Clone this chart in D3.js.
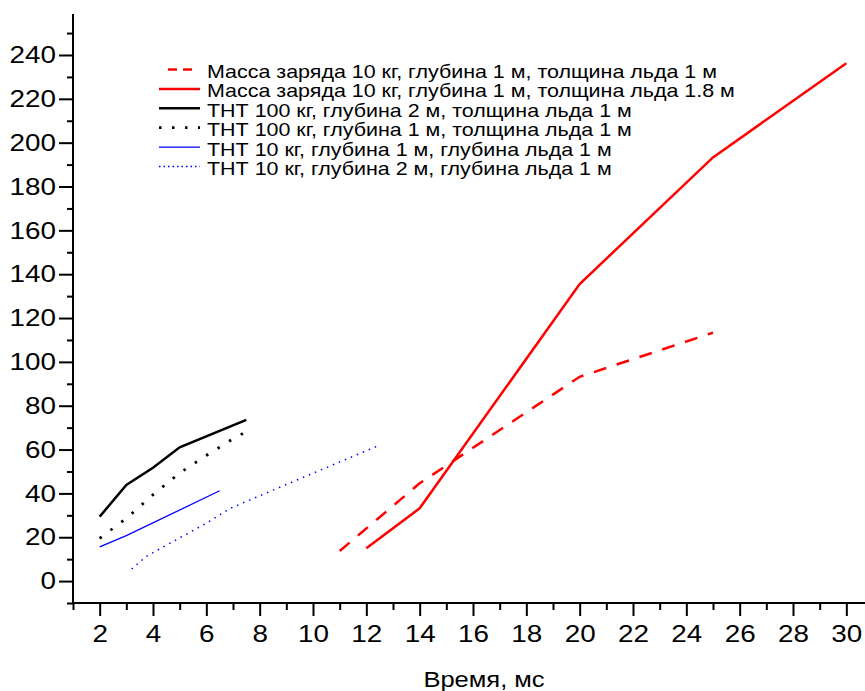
<!DOCTYPE html>
<html>
<head>
<meta charset="utf-8">
<script src="https://cdn.jsdelivr.net/npm/d3@7"></script>
<style>
  body { margin: 0; background: #fff; }
  svg { display: block; font-family: Arial, "Liberation Sans", sans-serif; }
  .axis path, .axis line { stroke: #000; stroke-width: 2; }
  .axis text { font-size: 24px; fill: #000; }
</style>
</head>
<body>
<div id="chart"></div>
<script>
// series values: [time ms, value]
var massa_10_1m = [[11, 13.7], [14, 44.6], [20, 93.2], [25, 113.3]];
var massa_10_1_8m = [[12, 15], [14, 33.2], [20, 135.5], [25, 193.3], [30, 236.2]];
var tnt100_depth2 = [[2, 29.4], [3, 43.8], [4, 51.7], [5, 61], [7.5, 73.5]];
var tnt100_depth1 = [[2, 19.5], [3, 28.6], [4, 39.4], [5, 49.3], [6, 57.3], [7, 64.9], [7.5, 68.2]];
var tnt10_depth1 = [[2, 15.6], [3, 20.7], [6.5, 41.2]];
var tnt10_depth2 = [[3.2, 5.5], [3.75, 11.3], [5, 19.7], [6, 26.4], [6.9, 33.2], [8, 38.9], [10, 49.2], [12.5, 62]];

var legend_labels = [
  "Масса заряда 10 кг, глубина 1 м, толщина льда 1 м",
  "Масса заряда 10 кг, глубина 1 м, толщина льда 1.8 м",
  "ТНТ 100 кг, глубина 2 м, толщина льда 1 м",
  "ТНТ 100 кг, глубина 1 м, толщина льда 1 м",
  "ТНТ 10 кг, глубина 1 м, глубина льда 1 м",
  "ТНТ 10 кг, глубина 2 м, глубина льда 1 м"
];

var x_major = [2, 4, 6, 8, 10, 12, 14, 16, 18, 20, 22, 24, 26, 28, 30];
var x_minor = [1, 3, 5, 7, 9, 11, 13, 15, 17, 19, 21, 23, 25, 27, 29];
var y_major = [0, 20, 40, 60, 80, 100, 120, 140, 160, 180, 200, 220, 240];
var y_minor = [-10, 10, 30, 50, 70, 90, 110, 130, 150, 170, 190, 210, 230, 250];
var x_title = "Время, мс";

const WIDTH = 865,
  HEIGHT = 691,
  X_LEFT = 73,
  X_RIGHT = 865,
  Y_BOTTOM = 603,
  Y_TOP = 14,
  STRETCH = 1.16; // the original text is wider than Arial at the same height

var svg = d3.select("#chart")
  .append("svg")
  .attr("width", WIDTH)
  .attr("height", HEIGHT);

var x = d3.scaleLinear().domain([1, 30.7]).range([X_LEFT, X_RIGHT]);
var y = d3.scaleLinear().domain([-10, 258.7]).range([Y_BOTTOM, Y_TOP]);

// axes: minor ticks first, then major with labels
svg.append("g")
  .attr("class", "axis")
  .attr("transform", "translate(0," + Y_BOTTOM + ")")
  .call(d3.axisBottom(x).tickValues(x_minor).tickSize(7).tickFormat(""))
  .select(".domain").attr("d", "M" + X_LEFT + ",0H" + X_RIGHT);

var x_axis = svg.append("g")
  .attr("class", "axis")
  .attr("transform", "translate(0," + Y_BOTTOM + ")")
  .call(d3.axisBottom(x).tickValues(x_major).tickSize(13).tickPadding(9).tickFormat(d3.format("d")));
x_axis.select(".domain").remove();
x_axis.selectAll("text").attr("transform", "scale(" + STRETCH + ",1)");

svg.append("g")
  .attr("class", "axis")
  .attr("transform", "translate(" + X_LEFT + ",0)")
  .call(d3.axisLeft(y).tickValues(y_minor).tickSize(6).tickFormat(""))
  .select(".domain").attr("d", "M0," + Y_BOTTOM + "V" + Y_TOP);

var y_axis = svg.append("g")
  .attr("class", "axis")
  .attr("transform", "translate(" + X_LEFT + ",0)")
  .call(d3.axisLeft(y).tickValues(y_major).tickSize(14).tickPadding(3).tickFormat(d3.format("d")));
y_axis.select(".domain").remove();
y_axis.selectAll("text")
  .attr("x", -17 / STRETCH)
  .attr("transform", "scale(" + STRETCH + ",1)");

svg.append("text")
  .attr("transform", "translate(484,687) scale(" + STRETCH + ",1)")
  .attr("text-anchor", "middle")
  .style("font-size", "22px")
  .text(x_title);

var line = d3.line()
  .x(function(d) { return x(d[0]); })
  .y(function(d) { return y(d[1]); });

var series = [
  { data: massa_10_1m, color: "#ff0000", width: 2.5, dash: "13,11" },
  { data: massa_10_1_8m, color: "#ff0000", width: 2.5, dash: null },
  { data: tnt100_depth2, color: "#000000", width: 2.5, dash: null },
  { data: tnt100_depth1, color: "#000000", width: 2.8, dash: "2.5,11" },
  { data: tnt10_depth1, color: "#0000ff", width: 1.3, dash: null },
  { data: tnt10_depth2, color: "#0000ff", width: 1.5, dash: "1.5,5" }
];

svg.append("g")
  .selectAll("path")
  .data(series)
  .enter()
  .append("path")
  .attr("fill", "none")
  .attr("stroke", function(d) { return d.color; })
  .attr("stroke-width", function(d) { return d.width; })
  .attr("stroke-dasharray", function(d) { return d.dash; })
  .attr("d", function(d) { return line(d.data); });

// legend
var legend = svg.append("g").attr("class", "legend");
var legend_dash = ["9,6", null, null, "2.5,10.5", null, "1.5,3"];

var rows = legend.selectAll("g")
  .data(series)
  .enter()
  .append("g")
  .attr("transform", function(d, i) { return "translate(0," + (78 + i * 19.4) + ")"; });

rows.append("line")
  .attr("x1", function(d, i) { return i === 0 ? 168 : 159; })
  .attr("x2", function(d, i) { return i === 0 ? 192 : 200; })
  .attr("y1", -8.5)
  .attr("y2", -8.5)
  .attr("stroke", function(d) { return d.color; })
  .attr("stroke-width", function(d) { return d.width; })
  .attr("stroke-dasharray", function(d, i) { return legend_dash[i]; });

rows.append("text")
  .attr("transform", "translate(207,0) scale(" + STRETCH + ",1)")
  .style("font-size", "18.5px")
  .text(function(d, i) { return legend_labels[i]; });
</script>
</body>
</html>
